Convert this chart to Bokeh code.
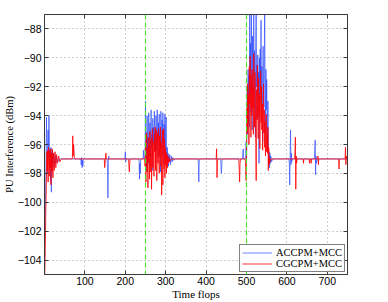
from bokeh.plotting import figure
from bokeh.models import Span, Legend, LegendItem, LinearAxis, FixedTicker, Range1d
from bokeh.embed import file_html
from bokeh.resources import INLINE

# ---------------- data ----------------
x_ticks = [100, 200, 300, 400, 500, 600, 700]
x_tick_labels = ["100", "200", "300", "400", "500", "600", "700"]
y_ticks = [-104, -102, -100, -98, -96, -94, -92, -90, -88]
y_tick_labels = ["\u2212104", "\u2212102", "\u2212100", "\u221298", "\u221296",
                 "\u221294", "\u221292", "\u221290", "\u221288"]
switch_points = [250, 500]

acc_x = [0, 1, 2, 3, 4, 5, 6, 7, 8, 9, 10, 11, 12, 13, 14, 15, 16, 17, 18, 19, 20, 21, 22, 24, 26, 28, 30, 33, 36, 40,
         90, 91, 92, 93, 94, 95, 96,
         155, 156, 157, 158, 159, 160,
         199, 200, 201, 202,
         234, 235, 236, 237, 238,
         244, 245, 246,
         248, 249, 250, 251, 252, 253, 254, 255, 256, 257, 258, 259, 260, 261, 262, 263, 264, 265, 266, 267, 268, 269,
         270, 271, 272, 273, 274, 275, 276, 277, 278, 279, 280, 281, 282, 283, 284, 285, 286, 287, 288, 289, 290, 291,
         292, 293, 294, 295, 296, 297, 298, 299, 300, 301, 302, 303, 304, 305, 306, 307, 308, 309, 310, 312, 314, 316,
         318, 320, 323,
         380, 381, 382, 383, 384,
         436, 437, 438, 439, 440,
         490, 491, 492, 493,
         497, 498, 499, 500, 501, 502, 503, 504, 505, 506, 507, 508, 509, 510, 511, 512, 513, 514, 515, 516, 517, 518,
         519, 520, 521, 522, 523, 524, 525, 526, 527, 528, 529, 530, 531, 532, 533, 534, 535, 536, 537, 538, 539, 540,
         541, 542, 543, 544, 545, 546, 547, 548, 549, 550, 551, 552, 553, 554, 555, 556, 557, 558, 559, 560, 562, 565,
         605, 606, 607, 608, 609, 610, 611, 612, 613,
         668, 669, 670, 671, 672, 673, 675,
         750]
acc_y = [-103.0, -102.0, -100.5, -98.6, -96.5, -94.1, -96.4, -98.0, -96.0, -95.0, -96.8, -94.0, -96.2, -97.6, -96.3,
         -98.5, -96.2, -99.3, -96.5, -97.8, -96.4, -97.3, -96.6, -97.6, -96.7, -97.3, -96.9, -97.2, -97.0, -97.0,
         -97.0, -97.4, -96.9, -97.6, -97.1, -97.5, -97.0,
         -97.0, -97.6, -99.7, -97.2, -96.8, -97.0,
         -97.0, -96.5, -97.2, -97.0,
         -97.0, -98.4, -97.3, -98.0, -97.0,
         -97.0, -96.4, -97.0,
         -97.0, -96.6, -93.0, -96.8, -95.2, -97.9, -94.0, -96.5, -95.5, -97.3, -93.8, -95.7, -96.8, -94.5, -97.5,
         -95.0, -93.6, -96.2, -95.3, -97.8, -94.2, -96.0, -94.8, -95.9, -93.7, -96.5, -95.1, -97.2, -94.0, -95.6,
         -96.4, -93.6, -95.8, -96.9, -94.5, -95.4, -93.9, -96.7, -95.0, -97.9, -93.7, -95.5, -96.2, -94.3, -96.8,
         -93.8, -95.9, -97.4, -94.6, -96.0, -93.9, -95.2, -97.0, -94.1, -96.5, -97.6, -96.2, -97.3, -96.6, -97.5,
         -96.8, -97.2, -96.7, -97.4, -96.8, -97.2, -96.9, -97.1, -97.0,
         -97.0, -97.5, -98.6, -97.2, -97.0,
         -97.0, -97.6, -98.0, -97.3, -97.0,
         -97.0, -96.5, -96.3, -97.0,
         -97.0, -96.8, -95.8, -97.0, -94.5, -92.0, -95.3, -90.8, -93.5, -91.2, -94.8, -86.5, -92.5, -89.0, -93.8,
         -86.5, -91.0, -95.0, -88.5, -92.8, -90.2, -86.5, -93.5, -89.5, -91.8, -95.5, -88.2, -86.5, -92.0, -90.5,
         -94.2, -89.8, -92.6, -91.0, -97.3, -90.0, -93.0, -89.4, -91.5, -87.4, -93.8, -90.6, -92.2, -95.8, -89.2,
         -91.9, -93.4, -90.3, -86.5, -92.4, -95.2, -90.8, -93.6, -91.5, -94.5, -96.2, -93.0, -95.4, -97.4, -96.5,
         -97.6, -96.6, -97.3, -96.8, -97.2, -97.0,
         -97.0, -97.3, -98.8, -96.8, -95.0, -97.4, -96.6, -97.2, -97.0,
         -97.0, -96.3, -95.7, -98.1, -96.8, -97.3, -97.0,
         -97.0]

cg_x = [0, 1, 2, 3, 4, 5, 6, 7, 8, 9, 10, 11, 12, 13, 14, 15, 16, 17, 18, 19, 20, 21, 22, 24, 26, 28, 30, 32, 35, 38, 42,
        69, 70, 71, 72, 73, 74,
        148, 149, 150, 151, 152, 153,
        208, 209, 210, 211, 212,
        248, 249, 250, 251, 252, 253, 254, 255, 256, 257, 258, 259, 260, 261, 262, 263, 264, 265, 266, 267, 268, 269,
        270, 271, 272, 273, 274, 275, 276, 277, 278, 279, 280, 281, 282, 283, 284, 285, 286, 287, 288, 289, 290, 291,
        292, 293, 294, 295, 296, 297, 298, 299, 300, 301, 302, 303, 304, 305, 306, 308, 310, 313,
        425, 426, 427, 428, 429,
        481, 482, 483, 484, 485,
        497, 498, 499, 500, 501, 502, 503, 504, 505, 506, 507, 508, 509, 510, 511, 512, 513, 514, 515, 516, 517, 518,
        519, 520, 521, 522, 523, 524, 525, 526, 527, 528, 529, 530, 531, 532, 533, 534, 535, 536, 537, 538, 539, 540,
        541, 542, 543, 544, 545, 546, 547, 548, 549, 550, 551, 552, 553, 554, 555, 556, 557, 558, 560,
        619, 620, 621, 622, 623, 624, 625,
        640, 641, 642, 655, 656, 657, 659, 660, 661,
        676, 677, 678, 679,
        728, 729, 730, 731,
        744, 745, 746, 747, 748, 750]
cg_y = [-105.5, -104.5, -103.2, -101.0, -99.5, -98.0, -96.5, -97.8, -96.4, -98.6, -96.2, -97.5, -98.2, -96.4, -97.6,
        -96.3, -98.8, -96.6, -97.9, -96.3, -97.5, -98.3, -96.6, -97.8, -96.5, -97.6, -96.7, -97.3, -96.8, -97.2, -97.0,
        -97.0, -95.4, -96.8, -96.0, -96.4, -97.0,
        -97.0, -97.6, -97.3, -96.8, -96.6, -97.0,
        -97.0, -97.5, -97.9, -97.3, -97.0,
        -97.0, -97.5, -95.8, -98.6, -96.0, -95.2, -97.9, -96.3, -99.0, -95.5, -97.2, -96.0, -98.4, -95.1, -96.8,
        -97.9, -95.6, -99.1, -96.2, -94.9, -97.6, -95.8, -96.9, -98.2, -95.3, -96.5, -94.8, -97.8, -96.1, -95.0,
        -98.5, -96.4, -95.2, -97.3, -94.9, -96.6, -98.0, -95.4, -96.8, -94.8, -97.5, -95.9, -99.5, -96.3, -95.0,
        -98.8, -96.0, -94.9, -97.7, -95.6, -98.3, -96.2, -97.4, -96.5, -98.0, -96.8, -97.6, -96.7, -97.3, -96.9,
        -97.2, -97.0,
        -97.0, -96.3, -98.3, -97.2, -97.0,
        -97.0, -97.8, -98.6, -97.3, -97.0,
        -97.0, -97.6, -98.5, -97.0, -93.5, -95.2, -91.8, -94.6, -92.5, -96.0, -90.6, -93.2, -89.9, -92.8, -95.5,
        -91.2, -94.0, -90.8, -93.5, -92.0, -95.3, -89.7, -92.6, -94.8, -91.0, -93.6, -96.0, -98.5, -92.2, -94.3,
        -90.5, -93.0, -95.6, -91.4, -94.0, -92.5, -96.3, -93.3, -90.9, -94.5, -92.0, -95.0, -93.2, -96.4, -94.0,
        -91.8, -95.2, -93.6, -96.2, -94.4, -96.8, -95.0, -93.9, -96.5, -95.3, -96.6, -94.8, -97.8, -96.2, -97.4,
        -96.9, -97.2, -97.0,
        -97.0, -96.5, -95.5, -99.1, -96.8, -97.3, -97.0,
        -97.0, -97.3, -97.0, -97.0, -97.3, -97.0, -97.0, -97.3, -97.0,
        -97.0, -96.8, -97.4, -97.0,
        -97.0, -97.7, -97.1, -97.0,
        -97.0, -96.2, -97.4, -96.8, -97.0, -97.0]

series_names = ["ACCPM+MCC", "CGCPM+MCC"]
x_label = "Time flops"
y_label = "PU Interference (dBm)"

# ---------------- figure ----------------
p = figure(width=388, height=302, output_backend="svg", toolbar_location=None,
           x_range=Range1d(0, 750), y_range=Range1d(-105, -87),
           min_border_left=41, min_border_right=41, min_border_top=14, min_border_bottom=26,
           x_axis_location=None, y_axis_location=None)
p.background_fill_color = "white"
p.border_fill_color = "white"
p.outline_line_color = "#3a3a3a"
p.outline_line_width = 1

FRAME = "#3a3a3a"


def style_axis(ax, ticks, labels, show_labels):
    ax.ticker = FixedTicker(ticks=ticks)
    ax.minor_tick_line_color = None
    ax.major_tick_in = 4
    ax.major_tick_out = 0
    ax.major_tick_line_color = FRAME
    ax.axis_line_color = FRAME
    if show_labels:
        ax.major_label_overrides = dict(zip(ticks, labels))
        ax.major_label_text_font = "Liberation Sans"
        ax.major_label_text_color = "black"
        ax.major_label_text_font_size = "10.5px"
        ax.major_label_standoff = 3
    else:
        ax.major_label_text_alpha = 0
        ax.major_label_text_color = None
        ax.major_label_text_font_size = "1px"
        ax.major_label_standoff = 0


bottom = LinearAxis(axis_label=x_label)
style_axis(bottom, x_ticks, x_tick_labels, True)
bottom.major_label_standoff = 2
left = LinearAxis(axis_label=y_label)
style_axis(left, y_ticks, y_tick_labels, True)
top = LinearAxis()
style_axis(top, x_ticks, x_tick_labels, False)
right = LinearAxis()
style_axis(right, y_ticks, y_tick_labels, False)
for ax in (bottom, left):
    ax.axis_label_text_font = "Liberation Serif"
    ax.axis_label_text_font_size = "10.5px"
    ax.axis_label_text_font_style = "normal"
    ax.axis_label_text_color = "black"
    ax.axis_label_standoff = 0
bottom.axis_label_text_font_size = "11px"
p.add_layout(bottom, "below")
p.add_layout(left, "left")
p.add_layout(top, "above")
p.add_layout(right, "right")

p.xgrid.ticker = FixedTicker(ticks=x_ticks)
p.ygrid.ticker = FixedTicker(ticks=y_ticks)
for g in (p.xgrid, p.ygrid):
    g.grid_line_color = "#9a9a9a"
    g.grid_line_dash = "1 3"
    g.grid_line_width = 1

r_acc = p.line(acc_x, acc_y, line_color="#2a48ff", line_width=0.85, line_alpha=0.8)
r_cg = p.line(cg_x, cg_y, line_color="#ff0000", line_width=0.9, line_alpha=0.9)

for s in switch_points:
    p.add_layout(Span(location=s, dimension="height", line_color="#4ee02a",
                      line_dash="5 3", line_width=1.2))

legend = Legend(items=[LegendItem(label=series_names[0], renderers=[r_acc]),
                       LegendItem(label=series_names[1], renderers=[r_cg])],
                location="bottom_right")
legend.border_line_color = "black"
legend.border_line_width = 1
legend.background_fill_color = "white"
legend.background_fill_alpha = 1
legend.label_text_font = "Liberation Serif"
legend.label_text_font_size = "10.5px"
legend.label_text_color = "black"
legend.glyph_width = 30
legend.glyph_height = 11
legend.label_height = 11
legend.label_standoff = 4
legend.padding = 2
legend.spacing = 0
legend.margin = 2
p.add_layout(legend, "center")

open("out.html", "w").write(file_html(p, INLINE))
